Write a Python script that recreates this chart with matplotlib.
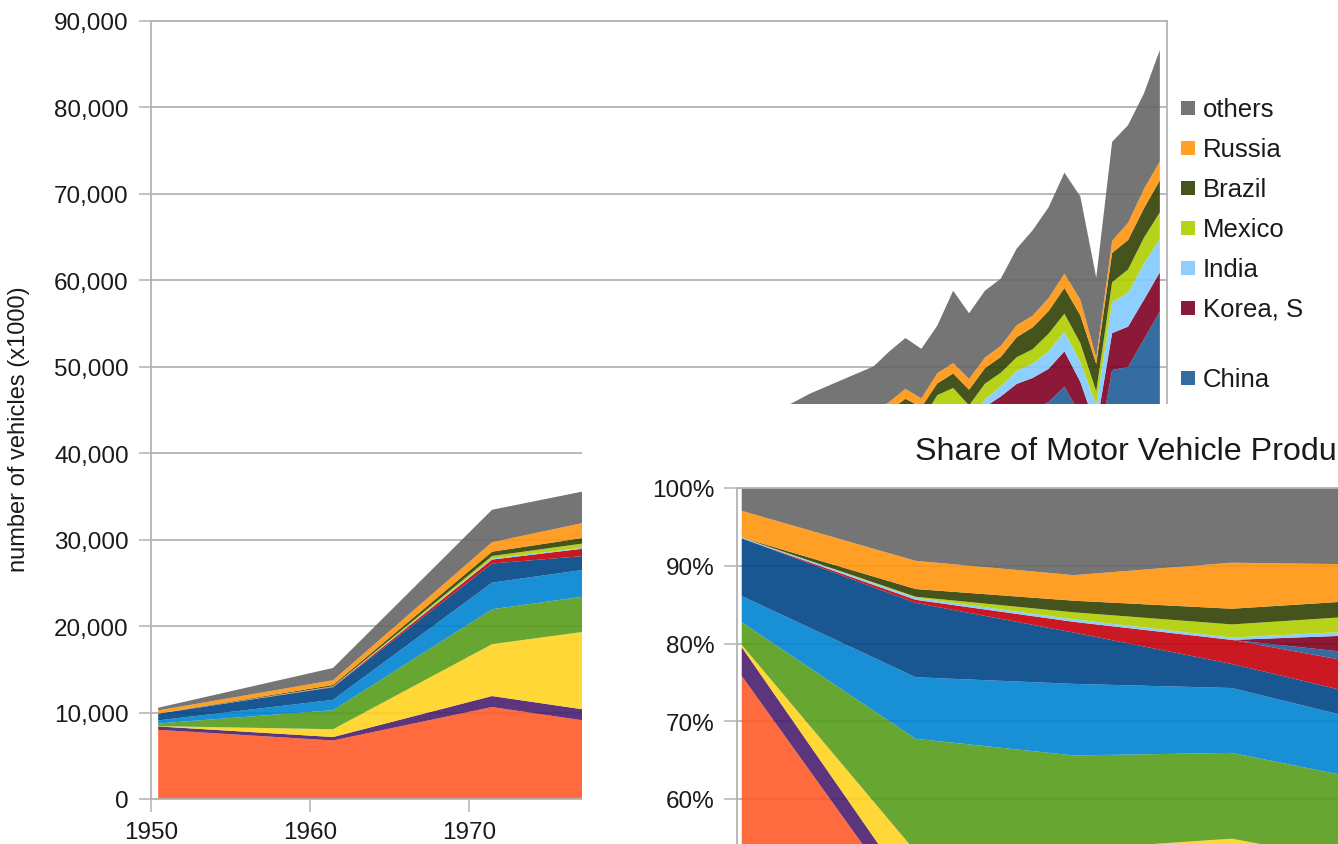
import numpy as np
import matplotlib
matplotlib.use('Agg')
import matplotlib.pyplot as plt
from matplotlib.patches import Rectangle
from matplotlib.ticker import FuncFormatter

plt.rcParams['font.family'] = ['Liberation Sans', 'DejaVu Sans']

# production in thousands of vehicles
years = [1950, 1961, 1971, 1981, 1991, 1995, 1996, 1997, 1998, 1999, 2000, 2001,
         2002, 2003, 2004, 2005, 2006, 2007, 2008, 2009, 2010, 2011, 2012, 2013]

usa = [8006, 6770, 10640, 7940, 8810, 11990, 11830, 12119, 12047, 13025, 12800, 11425,
       12280, 12115, 11989, 11947, 11264, 10781, 8672, 5709, 7743, 8662, 10336, 11066]
canada = [390, 400, 1270, 1280, 1890, 2410, 2400, 2571, 2568, 3059, 2962, 2533,
          2629, 2553, 2712, 2688, 2572, 2579, 2082, 1490, 2068, 2135, 2464, 2380]
japan = [32, 900, 6000, 11180, 13250, 10200, 10350, 10975, 10050, 9895, 10141, 9777,
         10257, 10286, 10512, 10800, 11484, 11596, 11564, 7934, 9629, 8399, 9943, 9630]
germany = [306, 2200, 4040, 4100, 5060, 4670, 4840, 5023, 5727, 5688, 5527, 5692,
           5469, 5507, 5570, 5758, 5820, 6213, 6046, 5210, 5906, 6311, 5649, 5718]
france = [357, 1200, 3080, 3100, 3490, 3050, 3150, 2581, 2954, 3180, 3348, 3628,
          3602, 3620, 3666, 3549, 3169, 3016, 2569, 2048, 2228, 2243, 1968, 1740]
uk = [784, 1450, 2210, 1150, 1520, 1770, 1920, 1936, 1976, 1973, 1814, 1685,
      1821, 1846, 1856, 1803, 1648, 1750, 1650, 1090, 1393, 1464, 1577, 1598]
spain = [0, 60, 460, 1150, 1980, 2330, 2410, 2562, 2826, 2852, 3033, 2850,
         2855, 3030, 3012, 2753, 2777, 2890, 2542, 2170, 2388, 2354, 1979, 2163]
china = [0, 0, 0, 0, 720, 1450, 1470, 1583, 1629, 1832, 2069, 2334,
         3287, 4444, 5234, 5708, 7189, 8882, 9299, 13791, 18265, 18419, 19272, 22117]
korea = [0, 0, 0, 0, 1370, 2530, 2810, 2818, 1954, 2843, 3115, 2946,
         3148, 3178, 3469, 3699, 3840, 4086, 3827, 3513, 4272, 4657, 4562, 4521]
india = [10, 40, 110, 110, 270, 640, 750, 700, 540, 818, 801, 815,
         895, 1162, 1511, 1639, 2020, 2254, 2315, 2642, 3557, 3927, 4175, 3881]
mexico = [0, 20, 300, 630, 930, 940, 1210, 1360, 1460, 1550, 1936, 1841,
          1805, 1575, 1577, 1684, 2046, 2095, 2168, 1561, 2342, 2681, 3002, 3052]
brazil = [0, 150, 500, 750, 930, 1630, 1800, 2070, 1586, 1351, 1682, 1817,
          1792, 1828, 2317, 2530, 2612, 2977, 3216, 3183, 3382, 3407, 3403, 3712]
russia = [363, 550, 1100, 2200, 2050, 1070, 1030, 1150, 1020, 1180, 1206, 1251,
          1220, 1279, 1386, 1354, 1504, 1660, 1790, 725, 1403, 1990, 2233, 2175]
others = [310, 1420, 3750, 3570, 4630, 5370, 5830, 5880, 5740, 5500, 8360, 7600,
          7740, 7780, 8870, 9880, 10500, 11670, 11960, 9240, 11440, 11300, 11060, 12890]

names = ['USA', 'Canada', 'Japan', 'Germany', 'France', 'UK', 'Spain', 'China',
         'Korea, S', 'India', 'Mexico', 'Brazil', 'Russia', 'others']
colors = ['#ff5a2a', '#4b1f6f', '#ffd320', '#579d1c', '#0084d1', '#004586', '#c5000b',
          '#1f5c98', '#7e0021', '#83caff', '#aecf00', '#314004', '#ff950e', '#666666']
series = [usa, canada, japan, germany, france, uk, spain, china,
          korea, india, mexico, brazil, russia, others]

W, H = 1338, 845
GRID = '#b3b3b3'
TXT = '#1a1a1a'

fig = plt.figure(figsize=(W / 100, H / 100), dpi=100)

# points sit at mid-year on the date axis
x = np.array(years) + 0.45
data = np.array(series, dtype=float)

# ---- main chart: absolute numbers
ax = fig.add_axes([151 / W, 1 - 800 / H, (1167 - 151) / W, (800 - 22) / H])
ax.stackplot(x, data, colors=colors, alpha=0.9, linewidth=0)
ax.set_xlim(1950, 2013.9)
ax.set_ylim(0, 90000)
ax.set_yticks(range(0, 90001, 10000))
ax.set_xticks([1950, 1960, 1970])
ax.yaxis.set_major_formatter(FuncFormatter(lambda v, p: f'{int(v):,}'))
ax.grid(axis='y', color=GRID, linewidth=1.3)
ax.set_axisbelow(True)
for s in ax.spines.values():
    s.set_color(GRID)
    s.set_linewidth(1.3)
ax.tick_params(length=9, width=1.1, color=GRID, labelsize=17.5, labelcolor=TXT, pad=7)

fig.text(19 / W, 1 - 429 / H, 'number of vehicles (x1000)', rotation=90,
         ha='center', va='center', fontsize=17, color=TXT)

# legend, top series first (the rest of it sits under the inset panel)
for i, k in enumerate(range(len(names) - 1, len(names) - 8, -1)):
    y = 109 + 40 * i + (30 if i >= 6 else 0)
    fig.patches.append(Rectangle((1181 / W, 1 - (y + 7) / H), 14 / W, 14 / H,
                                 transform=fig.transFigure, facecolor=colors[k],
                                 alpha=0.9, edgecolor='none', zorder=1))
    fig.text(1203 / W, 1 - (y + 1) / H, names[k], ha='left', va='center',
             fontsize=18.5, color=TXT, zorder=1)

# ---- inset panel: share of production
fig.patches.append(Rectangle((582 / W, 0), 1 - 582 / W, 1 - 405 / H,
                             transform=fig.transFigure, facecolor='white',
                             edgecolor='none', zorder=2))

share = data / data.sum(axis=0)
ax2 = fig.add_axes([737 / W, 1 - 1266.5 / H, 1009.5 / W, 777.5 / H], zorder=3)
ax2.stackplot(x, share, colors=colors, alpha=0.9, linewidth=0)
ax2.set_xlim(1950.15, 2014)
ax2.set_ylim(0, 1)
# only the upper part of this chart is inside the picture
ax2.set_yticks([0.6, 0.7, 0.8, 0.9, 1.0])
ax2.yaxis.set_major_formatter(FuncFormatter(lambda v, p: f'{int(round(v * 100))}%'))
ax2.set_xticks([])
ax2.grid(axis='y', color=GRID, linewidth=1.3)
ax2.set_axisbelow(True)
for s in ax2.spines.values():
    s.set_color(GRID)
    s.set_linewidth(1.3)
ax2.tick_params(length=9.4, width=1.1, color=GRID, labelsize=17.5, labelcolor=TXT, pad=6.5)

fig.text(915 / W, 1 - 460 / H, 'Share of Motor Vehicle Production by Country',
         ha='left', va='baseline', fontsize=23.2, color=TXT, zorder=4)

fig.savefig('out.png', dpi=100)
